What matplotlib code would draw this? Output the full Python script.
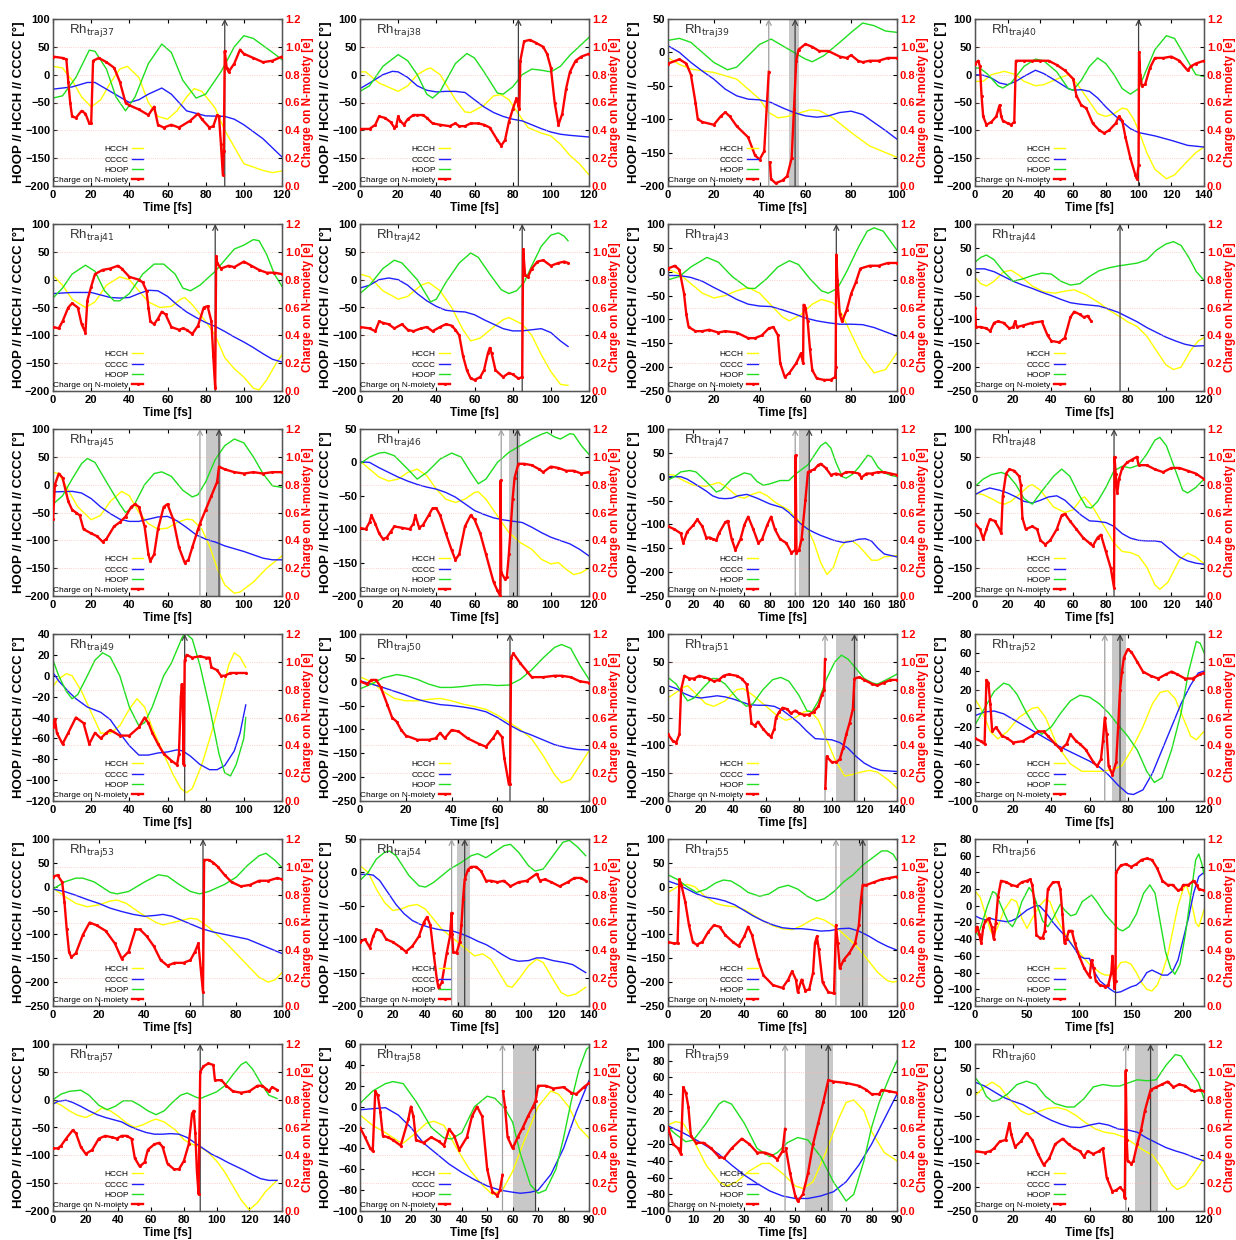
import numpy as np
import matplotlib
matplotlib.use('Agg')
import matplotlib.pyplot as plt
from matplotlib.lines import Line2D

plt.rcParams['font.family'] = ['Liberation Sans', 'DejaVu Sans']

# ---- panel settings ----
trajs   = [37, 38, 39, 40, 41, 42, 43, 44, 45, 46, 47, 48,
           49, 50, 51, 52, 53, 54, 55, 56, 57, 58, 59, 60]
xmax    = [120, 120, 100, 140, 120, 120, 100, 120, 120, 120, 180, 140,
           120, 100, 140, 120, 100, 140, 120, 220, 140, 90, 90, 120]
xstep   = [20, 20, 20, 20, 20, 20, 20, 20, 20, 20, 20, 20,
           20, 20, 20, 20, 20, 20, 20, 50, 20, 10, 10, 20]
ymin    = [-200, -200, -200, -200, -200, -200, -250, -250, -200, -200, -250, -200,
           -120, -250, -200, -100, -250, -200, -250, -120, -200, -100, -100, -250]
ymax    = [100, 100, 50, 100, 100, 100, 100, 100, 100, 50, 100, 100,
           40, 100, 100, 80, 100, 50, 100, 80, 100, 60, 100, 100]
ystep   = [50, 50, 50, 50, 50, 50, 50, 50, 50, 50, 50, 50,
           20, 50, 50, 20, 50, 50, 50, 20, 50, 20, 20, 50]
hop     = [90, 83, 55.5, 100, 85, 85, 73.5, 76, 87, 82.5, 111, 85,
           69, 65.5, 114, 76, 65.5, 64, 102, 135, 90, 69, 63, 92]
hop_pre = {39: 44, 45: 77, 46: 74, 47: 100, 51: 96, 52: 68, 54: 56, 55: 88, 58: 56, 59: 46, 60: 79}
spans   = {39: (53, 57), 45: (80, 88), 46: (78, 84), 47: (103, 112), 51: (103, 116), 52: (72, 79),
           54: (59, 67), 55: (90, 105), 58: (60, 69), 59: (54, 65), 60: (84, 96)}

# ---- data: (time, value) ----
hcch37 = [(0,15),(5,12),(10,-10),(15,-40),(20,-58),(25,-45),(30,-15),(35,10),(39,15),(45,-5),(50,-50),(55,-75),(60,-80),(65,-65),(70,-40),(74,-25),(78,-30),(85,-60),(90,-100),(95,-130),(100,-160),(110,-172),(115,-176),(120,-173)]
cccc37 = [(0,-26),(10,-22),(18,-14),(22,-14),(30,-30),(40,-50),(45,-45),(50,-35),(57,-24),(62,-35),(70,-65),(80,-74),(90,-75),(95,-80),(100,-90),(110,-115),(120,-148)]
hoop37 = [(0,-42),(5,-38),(12,-5),(19,44),(22,42),(28,10),(33,-40),(38,-65),(43,-40),(50,20),(57,55),(62,40),(68,-10),(75,-42),(80,-35),(88,5),(95,50),(100,70),(105,65),(115,40),(120,27)]
chg37  = [(0,0.93),(5,0.92),(7,0.91),(8,0.75),(9,0.6),(10,0.5),(12,0.49),(15,0.54),(17,0.52),(19,0.45),(20,0.45),(21,0.9),(24,0.92),(28,0.89),(32,0.85),(35,0.75),(38,0.6),(40,0.58),(45,0.55),(50,0.51),(53,0.57),(55,0.44),(58,0.42),(62,0.44),(66,0.42),(72,0.47),(76,0.52),(78,0.48),(82,0.42),(84,0.43),(86,0.51),(87,0.5),(88,0.3),(89,0.08),(89.5,0.25),(90,0.97),(91,0.85),(92,0.82),(95,0.88),(98,0.98),(100,0.95),(105,0.92),(110,0.89),(115,0.9),(120,0.93)]

hcch38 = [(0,5),(3,5),(10,-15),(20,-30),(25,-20),(30,0),(35,10),(37,12),(42,0),(50,-45),(55,-67),(58,-68),(65,-55),(70,-38),(74,-36),(78,-45),(83,-70),(88,-95),(95,-105),(100,-110),(105,-125),(110,-145),(115,-160),(120,-180)]
cccc38 = [(0,-25),(5,-15),(12,0),(17,6),(20,5),(25,-5),(30,-20),(35,-28),(40,-31),(45,-30),(50,-30),(55,-32),(60,-45),(65,-58),(70,-68),(75,-75),(80,-80),(85,-83),(90,-90),(95,-97),(100,-103),(105,-107),(110,-109),(120,-112)]
hoop38 = [(0,-30),(5,-20),(12,15),(20,36),(25,25),(30,0),(35,-35),(38,-42),(42,-30),(50,20),(56,38),(60,30),(65,5),(72,-33),(75,-35),(80,-22),(85,0),(90,10),(95,8),(100,5),(105,15),(110,35),(120,67)]
chg38  = [(0,0.41),(5,0.41),(8,0.44),(10,0.5),(13,0.49),(16,0.46),(18,0.42),(19,0.43),(20,0.5),(21,0.47),(23,0.44),(25,0.48),(28,0.51),(30,0.51),(33,0.51),(35,0.49),(38,0.45),(42,0.44),(47,0.43),(50,0.45),(52,0.43),(55,0.43),(58,0.45),(62,0.45),(65,0.44),(68,0.42),(72,0.33),(74,0.29),(76,0.33),(78,0.46),(80,0.55),(82,0.63),(83,0.58),(83.5,0.55),(84,0.9),(86,1.04),(89,1.05),(92,1.03),(96,1.0),(98,0.95),(100,0.85),(102,0.6),(104,0.44),(106,0.52),(108,0.7),(110,0.82),(113,0.9),(116,0.93),(120,0.95)]

hcch39 = [(0,-8),(5,-18),(10,-25),(20,-30),(30,-40),(40,-70),(44,-90),(48,-98),(52,-96),(56,-92),(62,-86),(66,-87),(72,-98),(80,-120),(88,-140),(95,-150),(100,-157)]
cccc39 = [(0,10),(5,0),(10,-15),(15,-28),(20,-40),(25,-55),(30,-65),(35,-70),(40,-71),(45,-75),(50,-83),(55,-90),(60,-95),(65,-97),(70,-95),(75,-90),(80,-88),(85,-93),(90,-105),(95,-117),(100,-130)]
hoop39 = [(0,18),(5,21),(10,15),(15,0),(20,-15),(26,-26),(30,-22),(35,-5),(40,12),(45,20),(50,10),(55,0),(60,-10),(63,-14),(68,-5),(75,15),(80,30),(85,44),(90,40),(95,32),(100,30)]
chg39  = [(0,0.88),(5,0.91),(8,0.88),(10,0.8),(12,0.6),(13,0.48),(15,0.46),(20,0.44),(23,0.5),(25,0.53),(27,0.5),(30,0.43),(35,0.35),(38,0.22),(40,0.19),(42,0.25),(44,0.82),(44.2,None),(44.5,0.17),(45,0.05),(47,0.02),(50,0.04),(52,0.07),(54,0.2),(55,0.55),(56,0.9),(57,0.98),(60,1.02),(63,1.0),(66,0.97),(70,0.97),(75,0.93),(78,0.92),(80,0.94),(83,0.9),(85,0.89),(88,0.9),(92,0.9),(96,0.92),(100,0.92)]

hcch40 = [(0,-12),(5,-12),(10,0),(18,6),(25,0),(30,-12),(37,-20),(42,-18),(50,-8),(57,0),(62,-15),(68,-40),(75,-70),(80,-75),(85,-70),(90,-60),(93,-62),(97,-80),(100,-100),(105,-140),(110,-170),(117,-187),(122,-180),(130,-155),(135,-140),(140,-130)]
cccc40 = [(0,0),(5,-1),(10,-6),(15,-15),(20,-18),(25,-12),(30,-3),(37,8),(42,2),(50,-12),(57,-25),(60,-28),(65,-27),(70,-30),(75,-42),(80,-58),(85,-72),(90,-85),(95,-97),(100,-104),(105,-107),(110,-110),(120,-118),(130,-127),(140,-130)]
hoop40 = [(0,12),(3,12),(8,0),(14,-20),(17,-24),(22,-15),(30,15),(37,28),(42,25),(50,5),(57,-25),(60,-28),(65,-10),(70,15),(75,30),(80,20),(85,0),(90,-25),(95,-35),(100,-25),(105,10),(110,45),(117,70),(122,65),(130,25),(135,0),(140,-3)]
chg40  = [(0,0.88),(2,0.9),(3,0.86),(4,0.65),(5,0.5),(7,0.44),(10,0.46),(13,0.5),(15,0.58),(16,0.5),(17,0.47),(20,0.45),(22,0.44),(24,0.46),(25,0.9),(30,0.9),(35,0.9),(40,0.9),(45,0.9),(50,0.87),(55,0.83),(60,0.77),(62,0.65),(65,0.58),(68,0.56),(72,0.45),(76,0.4),(79,0.38),(82,0.4),(86,0.45),(88,0.5),(90,0.47),(92,0.35),(95,0.2),(98,0.08),(99,0.05),(100,0.15),(100.3,0.96),(101,0.8),(102,0.72),(104,0.73),(107,0.85),(110,0.92),(115,0.92),(120,0.93),(125,0.9),(130,0.83),(132,0.86),(135,0.88),(140,0.9)]

hcch41 = [(0,8),(5,-10),(10,-35),(17,-50),(22,-40),(28,-10),(35,5),(40,0),(45,-20),(50,-40),(56,-50),(62,-48),(67,-35),(69,-32),(73,-45),(80,-75),(85,-100),(90,-140),(95,-160),(100,-175),(105,-195),(108,-198),(112,-180),(117,-150),(120,-135)]
cccc41 = [(0,-25),(10,-23),(20,-23),(30,-32),(35,-33),(40,-32),(45,-25),(50,-19),(55,-20),(60,-30),(65,-45),(70,-58),(75,-68),(80,-77),(85,-84),(90,-93),(95,-103),(100,-112),(105,-122),(110,-133),(115,-143),(120,-148)]
hoop41 = [(0,-33),(5,-15),(10,10),(17,26),(22,15),(27,-20),(32,-38),(35,-38),(40,-25),(47,10),(53,28),(58,28),(64,10),(68,-15),(72,-20),(77,-10),(85,15),(90,35),(95,55),(100,62),(105,72),(108,70),(112,45),(116,10),(120,-12)]
chg41  = [(0,0.46),(3,0.45),(5,0.5),(8,0.6),(10,0.63),(13,0.6),(15,0.48),(17,0.42),(18,0.65),(20,0.75),(22,0.84),(26,0.87),(30,0.88),(34,0.9),(36,0.88),(40,0.82),(45,0.8),(47,0.78),(49,0.72),(50,0.6),(51,0.5),(53,0.48),(55,0.52),(57,0.57),(59,0.55),(62,0.46),(66,0.44),(68,0.45),(70,0.44),(73,0.41),(76,0.47),(79,0.6),(81,0.61),(83,0.5),(84,0.25),(85,0.02),(85.5,0.97),(86,0.92),(88,0.88),(92,0.9),(95,0.89),(100,0.93),(104,0.9),(108,0.87),(112,0.85),(116,0.85),(120,0.84)]

hcch42 = [(0,10),(5,5),(12,-20),(20,-35),(25,-30),(32,-10),(36,-5),(42,-20),(48,-50),(54,-90),(58,-110),(63,-105),(70,-85),(75,-72),(78,-68),(85,-80),(90,-100),(95,-135),(100,-165),(105,-188),(109,-190)]
cccc42 = [(0,-15),(5,-10),(10,0),(15,3),(20,0),(25,-10),(30,-25),(35,-38),(40,-48),(45,-55),(50,-57),(55,-58),(60,-63),(65,-72),(70,-80),(75,-88),(80,-92),(85,-92),(90,-90),(95,-88),(100,-95),(105,-110),(109,-120)]
hoop42 = [(0,-25),(5,-10),(12,20),(18,35),(22,30),(30,0),(37,-40),(40,-35),(45,-5),(52,30),(58,48),(62,40),(68,10),(74,-18),(78,-25),(82,-20),(86,-5),(90,25),(95,60),(100,80),(104,84),(107,78),(109,70)]
chg42  = [(0,0.46),(5,0.45),(8,0.43),(10,0.5),(12,0.49),(15,0.48),(18,0.45),(22,0.48),(25,0.44),(28,0.43),(32,0.45),(35,0.46),(38,0.43),(42,0.46),(45,0.48),(48,0.47),(50,0.44),(52,0.4),(54,0.25),(56,0.15),(58,0.09),(60,0.08),(63,0.1),(65,0.15),(67,0.27),(68,0.31),(69,0.27),(71,0.15),(75,0.1),(78,0.13),(80,0.12),(83,0.09),(85,0.1),(85.5,1.02),(86.5,0.83),(88,0.82),(90,0.88),(93,0.93),(96,0.94),(100,0.9),(104,0.92),(107,0.93),(109,0.92)]

hcch43 = [(0,5),(5,-5),(10,-25),(15,-45),(20,-55),(25,-50),(30,-40),(35,-33),(40,-45),(45,-70),(50,-95),(53,-103),(58,-90),(63,-68),(67,-58),(72,-65),(75,-80),(80,-130),(85,-180),(90,-212),(95,-205),(100,-170)]
cccc43 = [(0,-8),(5,-8),(10,-12),(15,-20),(20,-33),(25,-45),(30,-58),(35,-68),(40,-72),(45,-73),(50,-80),(55,-88),(60,-97),(65,-103),(70,-107),(75,-110),(80,-110),(85,-111),(90,-117),(95,-126),(100,-135)]
hoop43 = [(0,-17),(5,-10),(10,10),(17,30),(22,20),(28,-10),(35,-35),(38,-35),(43,-15),(48,10),(53,23),(57,15),(62,-15),(67,-40),(70,-45),(74,-35),(78,0),(83,50),(87,85),(90,92),(94,85),(97,65),(100,45)]
chg43  = [(0,0.88),(3,0.9),(5,0.87),(7,0.7),(8,0.55),(9,0.46),(12,0.43),(15,0.43),(18,0.44),(22,0.42),(25,0.43),(30,0.42),(35,0.38),(38,0.38),(41,0.4),(44,0.45),(46,0.46),(48,0.4),(49,0.2),(51,0.1),(53,0.13),(56,0.2),(58,0.27),(59,0.2),(59.2,0.62),(60,0.6),(61,0.5),(62,0.3),(63,0.15),(65,0.09),(68,0.08),(71,0.08),(73,0.1),(73.2,0.17),(73.5,0.98),(74,0.8),(75,0.55),(76,0.5),(78,0.58),(80,0.7),(82,0.78),(84,0.88),(88,0.9),(92,0.9),(96,0.92),(100,0.92)]

hcch44 = [(0,-12),(3,-25),(6,-30),(10,-20),(15,0),(19,3),(24,-10),(30,-30),(36,-42),(42,-45),(48,-40),(52,-38),(58,-48),(65,-65),(70,-80),(75,-92),(80,-105),(85,-115),(90,-135),(95,-165),(100,-195),(104,-205),(108,-200),(113,-165),(117,-145),(120,-138)]
cccc44 = [(0,6),(5,6),(10,0),(15,-10),(20,-20),(25,-28),(30,-35),(35,-43),(40,-50),(45,-58),(50,-65),(55,-68),(60,-70),(65,-72),(70,-78),(75,-85),(80,-95),(85,-105),(90,-117),(95,-127),(100,-137),(105,-145),(110,-152),(115,-156),(120,-155)]
hoop44 = [(0,20),(3,30),(6,35),(10,25),(15,0),(20,-20),(25,-15),(30,-8),(35,-3),(40,-5),(45,-20),(50,-28),(55,-25),(60,-10),(65,2),(70,8),(75,12),(80,15),(85,18),(90,25),(95,45),(100,58),(104,63),(108,55),(112,30),(116,0),(120,-18)]
chg44  = [(0,0.6),(0.5,0.46),(3,0.46),(6,0.45),(8,0.43),(10,0.49),(12,0.5),(15,0.49),(18,0.45),(20,0.46),(21,0.5),(22,0.46),(25,0.47),(30,0.49),(35,0.5),(38,0.4),(40,0.36),(44,0.35),(47,0.38),(50,0.53),(52,0.57),(55,0.55),(57,0.53),(59,0.54),(61,0.5)]

hcch45 = [(0,22),(3,20),(8,-10),(13,-40),(20,-63),(25,-55),(30,-30),(36,-12),(40,-20),(45,-50),(50,-70),(55,-80),(60,-78),(65,-68),(70,-62),(73,-63),(78,-80),(82,-110),(86,-150),(90,-180),(95,-195),(98,-193),(105,-175),(112,-150),(120,-128)]
cccc45 = [(0,-13),(10,-12),(15,-15),(20,-25),(25,-40),(30,-52),(35,-62),(40,-66),(45,-66),(50,-62),(55,-58),(60,-57),(65,-65),(70,-77),(75,-90),(80,-98),(85,-103),(90,-110),(95,-115),(100,-120),(105,-126),(110,-132),(115,-135),(120,-135)]
hoop45 = [(0,-35),(5,-20),(10,10),(15,38),(18,47),(22,40),(28,5),(35,-35),(38,-50),(42,-40),(48,0),(53,20),(57,23),(62,15),(68,-10),(73,-22),(76,-18),(80,5),(85,45),(90,70),(95,82),(100,75),(105,50),(110,20),(115,-2),(120,-5)]
chg45  = [(0,0.55),(1,0.8),(3,0.88),(5,0.85),(8,0.68),(10,0.62),(12,0.6),(14,0.58),(16,0.48),(20,0.45),(23,0.43),(26,0.39),(28,0.41),(32,0.5),(35,0.53),(38,0.57),(41,0.64),(43,0.66),(45,0.64),(48,0.5),(50,0.3),(51,0.25),(53,0.3),(55,0.48),(58,0.64),(60,0.66),(63,0.55),(66,0.35),(69,0.24),(71,0.26),(73,0.35),(76,0.48),(77,0.52),(80,0.62),(83,0.72),(86,0.82),(87,0.93),(90,0.91),(95,0.89),(100,0.88),(105,0.89),(110,0.88),(115,0.89),(120,0.89)]

hcch46 = [(0,2),(5,-10),(10,-22),(15,-28),(20,-25),(25,-15),(30,-10),(35,-20),(40,-40),(45,-55),(50,-60),(55,-55),(60,-45),(62,-44),(66,-55),(72,-80),(78,-105),(84,-120),(90,-130),(95,-145),(100,-152),(104,-150),(108,-160),(112,-168),(116,-165),(120,-158)]
cccc46 = [(0,1),(5,0),(10,-8),(15,-15),(20,-22),(25,-28),(30,-33),(35,-37),(40,-40),(45,-45),(50,-52),(55,-62),(60,-72),(65,-78),(70,-83),(75,-86),(80,-88),(85,-90),(90,-97),(95,-105),(100,-112),(105,-117),(110,-122),(115,-130),(120,-140)]
hoop46 = [(0,-2),(5,8),(10,14),(13,15),(18,10),(25,-10),(30,-25),(35,-15),(42,5),(48,14),(53,8),(58,-15),(62,-32),(66,-25),(72,0),(78,15),(84,25),(90,35),(95,42),(98,45),(102,38),(105,35),(110,43),(112,42),(116,25),(120,12)]
chg46  = [(0,0.49),(3,0.48),(5,0.53),(6,0.58),(8,0.52),(10,0.45),(12,0.41),(14,0.42),(16,0.46),(18,0.5),(22,0.49),(26,0.48),(28,0.52),(29,0.58),(31,0.49),(33,0.51),(36,0.58),(38,0.63),(40,0.63),(42,0.58),(45,0.45),(48,0.33),(50,0.26),(52,0.3),(55,0.5),(58,0.58),(60,0.55),(63,0.45),(66,0.3),(70,0.1),(72,0.04),(73.5,0.0),(73.7,0.83),(74,0.17),(76,0.12),(77,0.14),(78,0.3),(80,0.7),(81,0.85),(83,0.95),(86,0.95),(90,0.94),(94,0.91),(96,0.89),(100,0.93),(104,0.92),(108,0.9),(112,0.9),(116,0.88),(120,0.89)]

hcch47 = [(0,5),(5,3),(10,-5),(20,-18),(30,-20),(40,-12),(45,-20),(55,-42),(60,-45),(65,-38),(72,-32),(78,-40),(85,-55),(95,-70),(100,-85),(110,-110),(115,-140),(120,-180),(125,-205),(130,-190),(135,-150),(140,-135),(145,-135),(150,-145),(155,-160),(160,-175),(165,-175),(170,-168),(180,-165)]
cccc47 = [(0,0),(10,0),(15,-5),(20,-13),(30,-30),(35,-40),(40,-45),(45,-46),(50,-45),(55,-40),(62,-37),(70,-45),(80,-57),(90,-65),(95,-75),(100,-88),(105,-100),(110,-110),(115,-117),(120,-123),(130,-133),(138,-138),(145,-135),(150,-131),(155,-130),(160,-135),(165,-150),(170,-162),(180,-168)]
hoop47 = [(0,-7),(5,0),(10,10),(17,13),(22,10),(30,-10),(38,-32),(42,-28),(50,-5),(60,8),(65,5),(70,-10),(75,-18),(80,-15),(88,-8),(95,-8),(100,5),(110,25),(115,45),(120,65),(124,72),(128,60),(132,30),(137,0),(140,-3),(145,5),(150,20),(157,45),(160,42),(165,20),(170,8),(175,3),(180,0)]
chg47  = [(0,0.5),(5,0.48),(10,0.45),(12,0.38),(15,0.46),(20,0.51),(23,0.55),(27,0.5),(30,0.42),(33,0.42),(35,0.41),(38,0.4),(40,0.45),(45,0.53),(47,0.54),(50,0.41),(53,0.33),(57,0.41),(60,0.51),(63,0.57),(67,0.48),(71,0.38),(74,0.41),(78,0.51),(81,0.57),(84,0.48),(88,0.41),(93,0.38),(97,0.31),(100,0.33),(100.3,1.01),(101,0.31),(103,0.33),(105,0.41),(108,0.69),(110,0.89),(112,0.9),(115,0.91),(118,0.94),(120,0.95),(124,0.92),(128,0.87),(132,0.88),(136,0.87),(140,0.89),(145,0.89),(150,0.88),(152,0.85),(156,0.88),(160,0.88),(165,0.89),(170,0.89),(175,0.88),(180,0.87)]

hcch48 = [(0,-15),(5,-18),(10,-25),(15,-33),(18,-35),(22,-30),(28,-15),(33,-2),(35,0),(40,-10),(48,-40),(55,-50),(60,-45),(65,-25),(67,-22),(72,-40),(80,-80),(85,-105),(90,-120),(95,-122),(100,-128),(105,-148),(110,-180),(113,-188),(118,-175),(125,-135),(130,-123),(135,-130),(140,-142)]
cccc48 = [(0,-18),(5,-10),(9,-6),(15,-10),(20,-15),(25,-22),(30,-30),(35,-33),(40,-28),(45,-22),(50,-20),(55,-28),(60,-42),(65,-55),(70,-65),(75,-66),(80,-68),(85,-75),(90,-88),(95,-96),(100,-100),(105,-101),(110,-101),(114,-103),(120,-118),(125,-130),(130,-137),(135,-141),(140,-143)]
hoop48 = [(0,-3),(5,10),(10,18),(16,22),(20,18),(25,0),(30,-25),(35,-35),(40,-15),(48,15),(53,28),(58,15),(63,-15),(68,-40),(71,-42),(75,-30),(80,-5),(85,25),(90,33),(95,30),(100,35),(105,55),(110,80),(113,85),(117,70),(122,30),(127,-10),(130,-15),(135,-5),(140,10)]
chg48  = [(0,0.52),(3,0.48),(5,0.41),(7,0.48),(9,0.55),(12,0.54),(15,0.48),(16,0.45),(17,0.72),(19,0.88),(21,0.91),(24,0.9),(27,0.86),(28,0.8),(29,0.56),(31,0.48),(35,0.5),(38,0.48),(40,0.4),(43,0.37),(46,0.4),(50,0.48),(53,0.58),(55,0.59),(58,0.54),(62,0.48),(66,0.42),(70,0.38),(72,0.36),(75,0.42),(77,0.44),(80,0.32),(83,0.2),(85,0.06),(85.3,1.0),(86,0.88),(87,0.74),(88,0.84),(90,0.92),(93,0.96),(96,0.98),(99,1.0),(100,0.94),(105,0.94),(110,0.91),(115,0.89),(120,0.92),(125,0.92),(130,0.9),(135,0.88),(140,0.84)]

hcch49 = [(0,-10),(3,-3),(7,2),(10,0),(15,-15),(20,-35),(25,-55),(30,-55),(35,-48),(40,-32),(44,-22),(48,-30),(52,-50),(58,-75),(63,-95),(67,-108),(70,-112),(73,-108),(78,-85),(83,-55),(88,-20),(92,10),(95,22),(98,18),(101,8)]
cccc49 = [(0,3),(3,-5),(8,-15),(12,-22),(18,-30),(25,-35),(30,-42),(35,-55),(40,-67),(45,-76),(50,-76),(55,-74),(60,-73),(65,-71),(68,-72),(72,-77),(77,-85),(82,-90),(86,-90),(90,-86),(95,-72),(98,-55),(101,-28)]
hoop49 = [(0,15),(3,0),(7,-15),(10,-22),(13,-18),(18,0),(22,15),(26,22),(30,18),(35,0),(40,-30),(45,-48),(48,-45),(52,-30),(58,0),(62,12),(65,25),(68,38),(70,40),(73,35),(77,10),(82,-30),(87,-75),(90,-93),(93,-96),(96,-85),(100,-60),(101,-40)]
chg49  = [(0,0.53),(1,0.59),(2,0.49),(5,0.41),(8,0.49),(12,0.6),(16,0.56),(19,0.41),(22,0.49),(25,0.45),(28,0.49),(30,0.51),(35,0.47),(40,0.47),(45,0.53),(48,0.6),(50,0.56),(52,0.49),(55,0.41),(58,0.34),(62,0.29),(65,0.26),(66,0.34),(67,0.75),(67.5,0.84),(68,0.75),(68.5,0.26),(69,1.01),(70,1.05),(73,1.03),(77,1.04),(80,1.03),(82,1.03),(83,0.96),(86,0.94),(88,0.9),(90,0.9),(93,0.92),(96,0.92),(101,0.92)]

hcch50 = [(0,10),(5,0),(10,-20),(15,-35),(20,-40),(25,-40),(30,-37),(35,-35),(40,-40),(45,-47),(50,-52),(55,-58),(60,-70),(65,-85),(70,-100),(75,-120),(80,-155),(85,-195),(88,-212),(92,-205),(96,-175),(100,-145)]
cccc50 = [(0,2),(5,-5),(10,-12),(15,-20),(20,-28),(25,-37),(30,-43),(35,-48),(40,-50),(45,-53),(50,-57),(55,-63),(60,-75),(65,-90),(70,-103),(75,-112),(80,-122),(85,-132),(90,-138),(95,-142),(100,-143)]
hoop50 = [(0,-15),(5,-5),(10,8),(16,15),(20,12),(25,5),(30,-5),(35,-12),(40,-12),(45,-10),(50,-7),(55,-6),(60,-8),(65,-7),(70,5),(75,25),(80,50),(85,72),(88,78),(92,70),(96,35),(100,5)]
chg50  = [(0,0.86),(3,0.84),(5,0.87),(7,0.87),(9,0.82),(12,0.69),(14,0.6),(16,0.57),(18,0.51),(20,0.47),(25,0.44),(30,0.44),(33,0.45),(35,0.49),(37,0.45),(40,0.51),(43,0.5),(47,0.45),(52,0.41),(55,0.39),(58,0.45),(60,0.5),(62,0.46),(63,0.31),(65,0.12),(65.5,0.12),(66,1.03),(67,1.06),(70,0.99),(73,0.93),(75,0.89),(80,0.89),(85,0.9),(88,0.9),(92,0.89),(96,0.86),(100,0.85)]

hcch51 = [(0,-15),(5,-5),(10,5),(12,7),(18,-10),(23,-25),(28,-30),(35,-20),(42,0),(46,2),(52,-10),(60,-30),(66,-45),(72,-55),(78,-50),(83,-40),(87,-38),(92,-55),(97,-90),(102,-125),(108,-155),(112,-153),(118,-148),(123,-145),(128,-148),(135,-163),(140,-177)]
cccc51 = [(0,7),(5,2),(10,-7),(15,-13),(20,-15),(25,-13),(30,-11),(35,-13),(40,-17),(45,-22),(50,-27),(55,-28),(60,-28),(65,-30),(70,-37),(75,-48),(80,-60),(85,-75),(90,-88),(95,-89),(100,-90),(105,-95),(110,-105),(115,-120),(120,-132),(125,-140),(130,-145),(140,-147)]
hoop51 = [(0,22),(5,10),(10,-12),(12,-20),(16,-15),(22,5),(27,20),(30,20),(35,10),(42,-15),(48,-30),(52,-25),(58,0),(64,18),(69,22),(74,15),(80,-10),(85,-38),(88,-40),(92,-20),(97,20),(102,50),(106,62),(110,55),(115,38),(120,20),(125,12),(128,10),(135,20),(140,28)]
chg51  = [(0,0.48),(3,0.43),(5,0.42),(7,0.48),(8,0.8),(10,0.9),(13,0.88),(16,0.88),(19,0.9),(22,0.89),(25,0.88),(28,0.86),(31,0.87),(34,0.9),(37,0.91),(42,0.9),(45,0.88),(48,0.84),(50,0.68),(51,0.56),(53,0.54),(55,0.57),(58,0.52),(61,0.48),(63,0.46),(65,0.52),(66,0.6),(68,0.64),(70,0.67),(73,0.66),(75,0.63),(78,0.65),(80,0.63),(83,0.62),(86,0.62),(89,0.64),(92,0.68),(94,0.76),(95.5,0.8),(96,1.02),(96.1,None),(96.2,0.09),(97,0.32),(100,0.28),(103,0.28),(105,0.3),(107,0.38),(109,0.48),(111,0.56),(113,0.66),(114,0.88),(117,0.89),(120,0.87),(125,0.84),(128,0.83),(132,0.85),(136,0.87),(140,0.87)]

hcch52 = [(0,10),(3,0),(8,-25),(12,-33),(17,-25),(23,-10),(30,0),(33,1),(37,-10),(43,-40),(50,-60),(56,-68),(62,-68),(67,-68),(72,-66),(77,-62),(82,-45),(88,-20),(93,5),(97,17),(101,19),(105,10),(110,-15),(113,-30),(116,-34),(120,-25)]
cccc52 = [(0,-8),(5,-4),(10,-3),(15,-6),(20,-12),(25,-18),(30,-24),(35,-30),(40,-36),(45,-42),(50,-47),(55,-52),(60,-57),(65,-63),(70,-72),(75,-83),(80,-92),(83,-93),(88,-88),(93,-70),(98,-45),(103,-20),(108,5),(113,25),(117,38),(120,40)]
hoop52 = [(0,-18),(5,0),(10,18),(15,27),(18,25),(22,15),(27,-5),(32,-22),(35,-28),(40,-20),(45,-5),(50,8),(55,14),(60,12),(65,5),(70,-5),(75,-18),(80,-30),(85,-45),(90,-68),(94,-80),(98,-75),(103,-45),(108,-5),(112,40),(116,72),(118,70),(120,60)]
chg52  = [(0,0.45),(3,0.43),(5,0.41),(6,0.87),(7,0.85),(8,0.7),(9,0.5),(11,0.53),(14,0.47),(17,0.45),(20,0.42),(25,0.43),(30,0.47),(33,0.5),(36,0.5),(38,0.47),(42,0.41),(45,0.37),(48,0.41),(50,0.48),(53,0.43),(55,0.41),(58,0.37),(62,0.28),(64,0.25),(66,0.3),(67,0.43),(68,0.6),(69,0.48),(70,0.25),(72,0.19),(74,0.28),(75,0.53),(76,0.8),(77,0.93),(78,1.03),(80,1.09),(82,1.07),(85,1.0),(88,0.93),(92,0.9),(96,0.88),(100,0.91),(103,0.93),(106,0.91),(110,0.88),(114,0.88),(118,0.91),(120,0.92)]

hcch53 = [(0,-3),(5,-20),(10,-35),(15,-42),(20,-38),(25,-30),(28,-28),(32,-35),(38,-55),(45,-75),(48,-80),(55,-72),(60,-66),(63,-68),(68,-85),(75,-115),(80,-140),(85,-165),(90,-190),(94,-200),(97,-195),(100,-180)]
cccc53 = [(0,-5),(5,-10),(10,-18),(15,-27),(20,-35),(25,-45),(30,-52),(35,-58),(40,-62),(45,-60),(48,-58),(52,-62),(55,-68),(60,-78),(65,-88),(70,-95),(75,-100),(80,-105),(85,-110),(90,-120),(95,-130),(100,-140)]
hoop53 = [(0,-5),(5,10),(10,18),(13,18),(18,10),(25,-12),(28,-15),(33,-10),(40,10),(46,25),(50,22),(55,5),(60,-10),(64,-15),(68,-10),(75,5),(80,20),(85,45),(90,65),(93,70),(97,55),(100,40)]
chg53  = [(0,0.93),(2,0.94),(4,0.89),(5,0.75),(6,0.55),(7,0.39),(8,0.35),(10,0.38),(13,0.51),(16,0.6),(19,0.58),(23,0.54),(27,0.45),(30,0.34),(33,0.39),(36,0.55),(38,0.55),(41,0.5),(44,0.43),(47,0.33),(50,0.29),(53,0.31),(57,0.31),(60,0.33),(62,0.39),(63.5,0.45),(64.5,0.27),(65.5,0.1),(66,1.05),(68,1.05),(70,1.03),(72,1.0),(75,0.94),(78,0.89),(82,0.86),(86,0.87),(90,0.9),(94,0.9),(98,0.92),(100,0.91)]

hcch54 = [(0,10),(5,0),(10,-25),(15,-45),(20,-57),(25,-55),(30,-50),(35,-48),(40,-55),(45,-70),(50,-85),(55,-95),(60,-105),(65,-115),(70,-125),(75,-122),(80,-130),(85,-150),(90,-170),(93,-172),(97,-160),(103,-140),(108,-130),(112,-135),(118,-160),(123,-180),(127,-185),(132,-182),(138,-172)]
cccc54 = [(0,-3),(5,-3),(8,-4),(12,-12),(17,-30),(22,-48),(27,-62),(32,-72),(37,-78),(42,-82),(47,-85),(52,-87),(57,-88),(62,-92),(67,-97),(72,-103),(77,-108),(82,-115),(87,-123),(92,-130),(97,-133),(103,-132),(108,-128),(112,-128),(118,-132),(125,-135),(130,-138),(138,-150)]
hoop54 = [(0,-12),(5,0),(10,20),(15,30),(18,32),(22,25),(30,-5),(36,-20),(40,-22),(45,-15),(50,-5),(55,5),(62,15),(68,25),(72,28),(77,22),(82,30),(88,40),(92,42),(97,30),(103,10),(107,2),(112,5),(118,25),(124,45),(128,48),(133,38),(138,25)]
chg54  = [(0,0.46),(3,0.48),(6,0.42),(8,0.5),(10,0.55),(13,0.54),(16,0.48),(20,0.46),(25,0.42),(28,0.39),(32,0.43),(36,0.5),(39,0.6),(41,0.64),(43,0.58),(45,0.38),(47,0.19),(48,0.13),(50,0.17),(53,0.38),(55,0.5),(56,0.67),(56.3,0.52),(57,0.39),(59,0.38),(61,0.46),(62,0.58),(63,0.77),(64,0.91),(66,0.98),(68,1.0),(71,1.0),(74,0.97),(77,0.9),(80,0.9),(84,0.89),(88,0.9),(92,0.86),(97,0.89),(102,0.9),(108,0.95),(110,0.9),(113,0.91),(117,0.89),(122,0.86),(127,0.89),(131,0.92),(135,0.92),(138,0.9)]

hcch55 = [(0,-12),(5,0),(10,5),(14,0),(20,-22),(25,-35),(30,-40),(35,-42),(40,-48),(45,-60),(50,-72),(55,-82),(60,-88),(65,-90),(70,-82),(75,-70),(78,-65),(82,-70),(88,-85),(95,-110),(100,-130),(105,-155),(110,-180),(115,-197),(118,-200),(120,-198)]
cccc55 = [(0,12),(5,5),(10,-5),(15,-15),(20,-22),(25,-25),(30,-30),(35,-38),(40,-50),(45,-62),(50,-72),(55,-80),(60,-86),(65,-88),(70,-88),(75,-90),(80,-93),(85,-92),(90,-88),(95,-87),(100,-93),(105,-103),(110,-115),(115,-125),(120,-133)]
hoop55 = [(0,25),(5,15),(10,0),(15,-12),(20,-5),(25,8),(29,14),(33,12),(38,0),(42,-12),(48,-20),(53,-15),(58,-2),(63,3),(68,-5),(73,-20),(78,-30),(82,-25),(87,-10),(92,10),(97,25),(102,45),(107,60),(112,75),(115,75),(118,68),(120,55)]
chg55  = [(0,0.46),(3,0.45),(5,0.45),(6,0.91),(7,0.87),(9,0.75),(11,0.58),(13,0.46),(15,0.44),(18,0.46),(21,0.53),(24,0.58),(27,0.57),(30,0.51),(34,0.46),(37,0.43),(40,0.5),(42,0.57),(44,0.51),(47,0.34),(50,0.22),(55,0.15),(60,0.13),(63,0.19),(65,0.25),(67,0.19),(68,0.1),(70,0.19),(72,0.11),(74,0.12),(76,0.24),(77,0.45),(78,0.5),(79,0.41),(81,0.17),(84,0.1),(87,0.09),(88,0.58),(89,0.45),(90,0.27),(92,0.33),(95,0.38),(98,0.45),(100,0.58),(101,0.75),(102,0.87),(104,0.87),(108,0.89),(112,0.91),(116,0.92),(120,0.93)]

hcch56 = [(0,18),(5,10),(10,-10),(15,-30),(18,-35),(22,-25),(28,-5),(35,8),(40,5),(45,-15),(50,-27),(55,-15),(62,0),(68,8),(72,5),(78,-15),(85,-30),(90,-40),(95,-50),(100,-55),(105,-63),(110,-70),(115,-75),(120,-80),(125,-83),(130,-83),(135,-78),(140,-68),(145,-67),(150,-70),(155,-80),(160,-92),(165,-100),(170,-102),(175,-95),(180,-80),(185,-60),(190,-30),(195,0),(200,20),(203,25),(207,10),(212,-20),(215,-25),(220,-5)]
cccc56 = [(0,-12),(5,-15),(10,-17),(15,-15),(20,-17),(25,-18),(30,-19),(35,-18),(40,-15),(50,-5),(58,0),(62,0),(68,-8),(75,-20),(82,-30),(88,-38),(95,-50),(100,-60),(105,-63),(110,-63),(115,-80),(120,-90),(125,-95),(130,-100),(135,-104),(140,-103),(145,-100),(150,-97),(155,-95),(160,-90),(165,-80),(170,-77),(175,-80),(180,-83),(185,-83),(190,-78),(195,-65),(200,-40),(205,-15),(210,15),(215,35),(220,40)]
hoop56 = [(0,-30),(3,-35),(7,-20),(12,0),(17,17),(20,15),(25,0),(32,-20),(36,-25),(40,-15),(45,5),(52,22),(56,15),(60,0),(65,-18),(70,-25),(75,-15),(82,2),(86,-5),(92,-12),(97,-10),(103,5),(112,13),(117,5),(125,-10),(132,-20),(138,-28),(142,-30),(148,-25),(155,-10),(162,15),(168,25),(173,15),(178,-20),(183,-55),(188,-75),(192,-82),(197,-70),(202,-35),(207,10),(212,55),(215,62),(218,50),(220,38)]
chg56  = [(0,0.54),(2,0.57),(4,0.52),(6,0.45),(8,0.57),(10,0.61),(13,0.63),(16,0.57),(18,0.48),(20,0.6),(22,0.78),(25,0.9),(30,0.89),(35,0.87),(40,0.86),(45,0.89),(50,0.9),(53,0.91),(55,0.87),(57,0.75),(59,0.51),(62,0.49),(65,0.49),(67,0.54),(70,0.84),(75,0.89),(80,0.89),(82,0.84),(84,0.66),(86,0.45),(88,0.48),(90,0.54),(93,0.54),(96,0.45),(100,0.36),(105,0.27),(110,0.21),(112,0.33),(114,0.27),(116,0.18),(120,0.15),(125,0.14),(128,0.15),(131,0.24),(132,0.36),(133,0.24),(134,0.13),(135,0.18),(135.5,0.96),(140,1.01),(145,1.02),(150,1.0),(155,1.02),(160,1.05),(165,1.06),(170,1.05),(175,0.99),(180,0.9),(185,0.87),(190,0.87),(195,0.83),(198,0.84),(200,0.87),(205,0.87),(210,0.9),(213,0.87),(215,0.84),(220,0.83)]

hcch57 = [(0,-3),(5,-10),(10,-20),(15,-28),(20,-32),(25,-25),(30,-15),(35,-20),(40,-30),(45,-42),(50,-50),(55,-45),(60,-38),(63,-35),(68,-40),(75,-55),(80,-72),(85,-80),(90,-85),(95,-95),(100,-110),(105,-130),(110,-155),(115,-180),(120,-198),(125,-185),(130,-165),(137,-145)]
cccc57 = [(0,-8),(3,-3),(8,-1),(12,-5),(17,-12),(22,-20),(27,-27),(32,-32),(37,-36),(42,-40),(47,-48),(52,-54),(57,-59),(62,-62),(67,-62),(72,-61),(77,-62),(82,-68),(87,-78),(92,-88),(97,-98),(102,-105),(107,-113),(112,-120),(117,-127),(122,-135),(127,-142),(132,-145),(137,-145)]
hoop57 = [(0,0),(5,10),(10,15),(17,17),(22,8),(28,-10),(33,-18),(38,-12),(43,-2),(48,-2),(53,-10),(58,-20),(63,-27),(68,-20),(73,-5),(78,8),(82,12),(87,5),(90,2),(95,8),(100,14),(105,25),(110,45),(115,63),(118,68),(122,55),(127,30),(132,8),(137,2)]
chg57  = [(0,0.45),(3,0.45),(5,0.47),(8,0.52),(12,0.58),(14,0.56),(17,0.46),(20,0.41),(24,0.44),(28,0.52),(32,0.54),(36,0.53),(39,0.52),(42,0.54),(45,0.54),(48,0.52),(50,0.38),(53,0.32),(56,0.35),(58,0.44),(62,0.48),(65,0.49),(67,0.46),(70,0.34),(74,0.3),(77,0.3),(80,0.36),(83,0.48),(85,0.7),(86,0.72),(87,0.56),(88,0.28),(89,0.12),(90,1.0),(92,1.04),(95,1.06),(98,1.05),(99,0.94),(103,0.94),(106,0.9),(110,0.86),(115,0.85),(120,0.86),(125,0.9),(128,0.9),(130,0.88),(132,0.86),(134,0.89),(137,0.87)]

hcch58 = [(0,-8),(5,-18),(10,-25),(15,-33),(17,-35),(22,-25),(26,-16),(29,-14),(33,-18),(38,-40),(43,-60),(48,-75),(52,-84),(56,-80),(60,-62),(65,-30),(70,0),(75,15),(78,12),(82,0),(86,-20),(90,-30)]
cccc58 = [(0,-3),(5,-2),(10,-1),(15,-8),(20,-20),(25,-35),(30,-45),(35,-55),(40,-63),(45,-70),(50,-76),(55,-80),(60,-82),(63,-83),(67,-82),(70,-80),(75,-65),(80,-40),(85,-5),(90,25)]
hoop58 = [(0,3),(5,15),(10,22),(13,24),(17,22),(22,5),(28,-20),(33,-30),(36,-31),(40,-25),(45,0),(50,10),(53,8),(57,-2),(60,-15),(63,-45),(67,-75),(70,-83),(73,-80),(77,-60),(80,-30),(83,5),(86,35),(89,55),(90,57)]
chg58  = [(0,0.6),(2,0.53),(4,0.45),(5,0.43),(6,0.86),(7,0.83),(8,0.71),(9,0.54),(11,0.53),(13,0.51),(16,0.47),(19,0.66),(20,0.75),(21,0.68),(22,0.51),(25,0.49),(28,0.53),(31,0.5),(33,0.47),(35,0.59),(37,0.54),(39,0.44),(42,0.53),(44,0.68),(46,0.75),(48,0.68),(50,0.3),(52,0.14),(54,0.11),(55,0.15),(56,0.26),(56.1,None),(56.2,0.86),(57,0.75),(58,0.53),(60,0.45),(62,0.53),(64,0.6),(66,0.68),(68,0.75),(69,0.79),(70,0.9),(73,0.9),(76,0.88),(80,0.89),(83,0.85),(85,0.84),(88,0.89),(90,0.92)]

hcch59 = [(0,3),(3,7),(6,5),(10,-15),(15,-45),(20,-65),(23,-70),(27,-65),(32,-52),(37,-43),(40,-43),(45,-55),(50,-70),(53,-73),(57,-65),(62,-30),(67,10),(70,30),(73,33),(77,20),(80,-5),(85,-30),(90,-40)]
cccc59 = [(0,2),(5,-5),(10,-13),(15,-22),(20,-32),(25,-45),(30,-57),(35,-67),(40,-76),(45,-82),(50,-85),(55,-85),(60,-82),(65,-77),(70,-65),(75,-45),(80,-20),(85,10),(90,40)]
hoop59 = [(0,0),(3,-8),(7,-17),(10,-15),(15,5),(20,28),(22,32),(25,28),(30,5),(35,-25),(40,-35),(43,-30),(47,-18),(51,-12),(55,-15),(60,-35),(65,-65),(70,-88),(73,-80),(77,-40),(80,0),(83,30),(87,60),(90,80)]
chg59  = [(0,0.6),(2,0.48),(4,0.45),(5,0.41),(6,0.89),(7,0.85),(8,0.75),(9,0.54),(11,0.49),(14,0.49),(17,0.45),(20,0.39),(22,0.38),(25,0.45),(29,0.52),(32,0.48),(35,0.42),(38,0.42),(41,0.4),(43,0.37),(45,0.43),(46,0.59),(46.1,None),(46.3,0.45),(48,0.27),(50,0.11),(51,0.07),(53,0.12),(55,0.27),(57,0.48),(59,0.63),(61,0.78),(63,0.94),(65,0.93),(70,0.92),(75,0.9),(78,0.87),(80,0.84),(83,0.84),(84,0.87),(87,0.86),(90,0.85)]

hcch60 = [(0,-8),(5,10),(9,20),(13,10),(18,-15),(24,-40),(28,-48),(33,-42),(38,-35),(43,-33),(48,-38),(53,-50),(58,-65),(63,-78),(68,-85),(73,-88),(78,-95),(83,-108),(88,-122),(93,-133),(98,-160),(103,-195),(106,-205),(110,-197),(115,-170),(120,-140)]
cccc60 = [(0,20),(5,12),(10,0),(15,-12),(20,-20),(25,-27),(30,-38),(35,-50),(40,-60),(45,-68),(50,-74),(55,-75),(60,-70),(65,-66),(70,-70),(75,-78),(80,-80),(85,-85),(90,-97),(95,-107),(100,-117),(105,-124),(110,-130),(115,-138),(120,-145)]
hoop60 = [(0,30),(3,15),(6,-10),(9,-20),(12,-18),(17,-5),(22,15),(27,22),(32,15),(37,-10),(42,-25),(48,-32),(52,-32),(57,-15),(62,10),(67,15),(72,12),(76,12),(80,18),(85,25),(90,23),(95,25),(100,55),(105,78),(108,75),(112,50),(117,20),(120,-15)]
chg60  = [(0,0.43),(5,0.42),(8,0.43),(10,0.45),(13,0.5),(16,0.51),(18,0.63),(19,0.55),(21,0.46),(24,0.5),(27,0.56),(30,0.51),(33,0.41),(36,0.33),(39,0.38),(42,0.48),(46,0.52),(49,0.48),(52,0.45),(55,0.43),(57,0.39),(59,0.43),(62,0.41),(65,0.43),(67,0.45),(69,0.24),(72,0.14),(74,0.15),(76,0.17),(78,0.14),(78.5,0.09),(79,1.01),(79.5,0.51),(80,0.36),(82,0.34),(83,0.36),(85,0.48),(87,0.58),(89,0.72),(91,0.82),(92,0.87),(95,0.89),(98,0.91),(101,0.93),(104,0.89),(107,0.91),(110,0.9),(113,0.87),(115,0.86),(118,0.87),(120,0.86)]

hcch_all = [hcch37, hcch38, hcch39, hcch40, hcch41, hcch42, hcch43, hcch44, hcch45, hcch46, hcch47, hcch48,
            hcch49, hcch50, hcch51, hcch52, hcch53, hcch54, hcch55, hcch56, hcch57, hcch58, hcch59, hcch60]
cccc_all = [cccc37, cccc38, cccc39, cccc40, cccc41, cccc42, cccc43, cccc44, cccc45, cccc46, cccc47, cccc48,
            cccc49, cccc50, cccc51, cccc52, cccc53, cccc54, cccc55, cccc56, cccc57, cccc58, cccc59, cccc60]
hoop_all = [hoop37, hoop38, hoop39, hoop40, hoop41, hoop42, hoop43, hoop44, hoop45, hoop46, hoop47, hoop48,
            hoop49, hoop50, hoop51, hoop52, hoop53, hoop54, hoop55, hoop56, hoop57, hoop58, hoop59, hoop60]
chg_all  = [chg37, chg38, chg39, chg40, chg41, chg42, chg43, chg44, chg45, chg46, chg47, chg48,
            chg49, chg50, chg51, chg52, chg53, chg54, chg55, chg56, chg57, chg58, chg59, chg60]

W, H = 1236, 1240
fig = plt.figure(figsize=(W/100, H/100), dpi=100)

col_left = [53, 360, 668, 975]
row_top  = [19, 224, 429, 634, 839, 1044]
aw, ah   = 229, 167

c_hcch, c_cccc, c_hoop, c_chg = '#ffff00', '#1f1fff', '#1fdf1f', '#ff0000'


def xy(pts):
    a = np.array(pts, dtype=float)
    return a[:, 0], a[:, 1]


for i, tr in enumerate(trajs):
    r, c = divmod(i, 4)
    ax = fig.add_axes([col_left[c]/W, 1-(row_top[r]+ah)/H, aw/W, ah/H])
    ax2 = ax.twinx()

    # shaded region + hop arrows
    if tr in spans:
        ax.axvspan(spans[tr][0], spans[tr][1], color='#c8c8c8', lw=0, zorder=0)
    for xh, col in ([(hop_pre[tr], '#a0a0a0')] if tr in hop_pre else []) + [(hop[i], '#404040')]:
        ax2.annotate('', xy=(xh, 1.2), xytext=(xh, 0),
                     arrowprops=dict(arrowstyle='->', color=col, lw=0.9,
                                     shrinkA=0, shrinkB=0, mutation_scale=9))

    x, y = xy(hcch_all[i]); ax.plot(x, y, color=c_hcch, lw=1.0)
    x, y = xy(cccc_all[i]); ax.plot(x, y, color=c_cccc, lw=1.0)
    x, y = xy(hoop_all[i]); ax.plot(x, y, color=c_hoop, lw=1.0)
    x, y = xy(chg_all[i])
    ax2.plot(x, y, color=c_chg, lw=1.7, marker='.', ms=2.5, zorder=5)

    ax.set_xlim(0, xmax[i])
    ax.set_ylim(ymin[i], ymax[i])
    ax2.set_ylim(0, 1.2)
    ax.set_xticks(np.arange(0, xmax[i]+0.1, xstep[i]))
    ax.set_yticks(np.arange(ymin[i], ymax[i]+0.1, ystep[i]))
    ax2.set_yticks(np.arange(0, 1.21, 0.2))
    ax2.set_yticklabels(['%.1f' % v for v in np.arange(0, 1.21, 0.2)])
    ax2.grid(axis='y', color='#ffb0b0', lw=0.6, ls=':', alpha=0.8)

    ax.tick_params(axis='both', direction='in', length=3, width=0.8, top=True, labelsize=8, pad=2)
    ax.tick_params(axis='x', pad=3)
    ax2.tick_params(axis='y', direction='in', length=3, width=0.8, labelsize=8, labelcolor='red', pad=2)
    for lab in ax.get_xticklabels() + ax.get_yticklabels() + ax2.get_yticklabels():
        lab.set_fontweight('bold')
    for sp in ax2.spines.values():
        sp.set_color('#555555'); sp.set_linewidth(1.0)

    ax.set_xlabel('Time [fs]', labelpad=1.5, fontsize=8.5, fontweight='bold')
    ax.set_ylabel('HOOP // HCCH // CCCC [°]', labelpad=0, fontsize=9.5, fontweight='bold')
    ax2.set_ylabel('Charge on N-moiety [e]', labelpad=1, fontsize=8.5, fontweight='bold', color='red')

    ax.text(0.07, 0.93, r'Rh$_{\mathrm{traj%d}}$' % tr, transform=ax.transAxes,
            fontsize=9.5, color='#333333', va='center', ha='left')

    handles = [Line2D([], [], color=c_hcch, lw=1.0),
               Line2D([], [], color=c_cccc, lw=1.0),
               Line2D([], [], color=c_hoop, lw=1.0),
               Line2D([], [], color=c_chg, lw=1.7, marker='.', ms=2.5)]
    ax2.legend(handles, ['HCCH', 'CCCC', 'HOOP', 'Charge on N-moiety'],
               loc='lower right', bbox_to_anchor=(0.40, 0.0), frameon=False,
               markerfirst=False, fontsize=6, handlelength=1.3, handletextpad=0.4,
               labelspacing=0.3, borderpad=0.2, borderaxespad=0.0)

fig.savefig('out.png', dpi=100)
